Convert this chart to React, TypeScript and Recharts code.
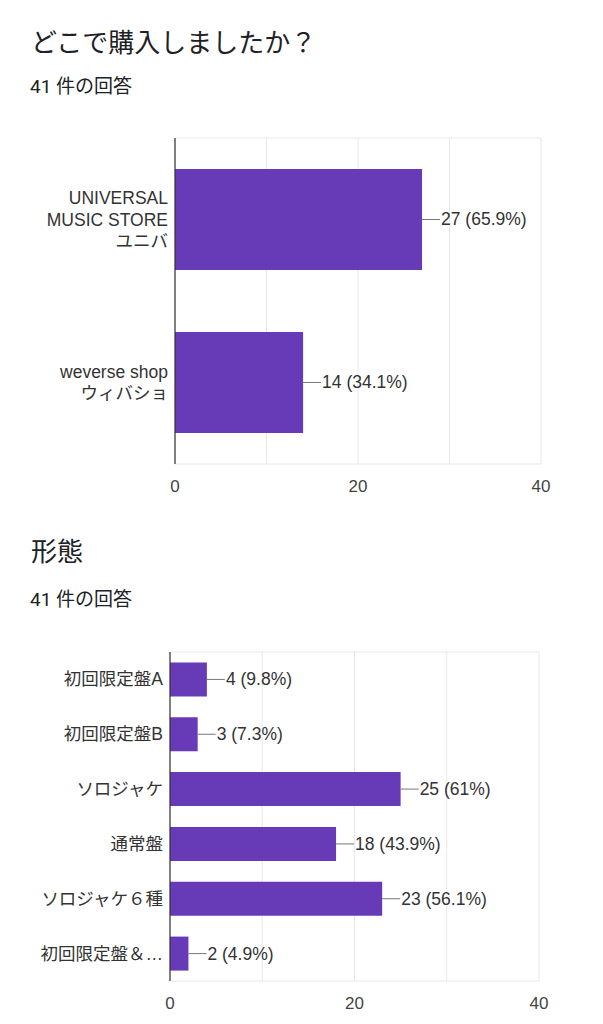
import React from 'react';
import { BarChart, Bar, XAxis, YAxis, CartesianGrid, LabelList } from 'recharts';

const TOTAL_LABEL = '41 件の回答';

const q1Title = 'どこで購入しましたか？';
const q1Categories = ['UNIVERSAL\nMUSIC STORE\nユニバ', 'weverse shop\nウィバショ'];
const q1Values = [27, 14];
const q1Percents = ['65.9%', '34.1%'];

const q2Title = '形態';
const q2Categories = ['初回限定盤A', '初回限定盤B', 'ソロジャケ', '通常盤', 'ソロジャケ６種', '初回限定盤＆…'];
const q2Values = [4, 3, 25, 18, 23, 2];
const q2Percents = ['9.8%', '7.3%', '61%', '43.9%', '56.1%', '4.9%'];

const xTicks = [0, 20, 40];
const gridValues = [0, 10, 20, 30, 40];
const xDomain = [0, 40];

const CHART_FONT = '"Liberation Sans", Arial, "Noto Sans CJK JP", sans-serif';
const TITLE_FONT = 'Roboto, "Noto Sans CJK JP", sans-serif';
const BAR_COLOR = '#673ab7';
const LABEL_SIZE = 17.5;

const buildRows = (cats: string[], vals: number[], pcts: string[]) =>
  cats.map((name, i) => ({ name, value: vals[i], label: `${vals[i]} (${pcts[i]})` }));

const CatTick = (props: any) => {
  const { x, y, payload } = props;
  const lines = String(payload.value).split('\n');
  const lh = 21.5;
  const start = -((lines.length - 1) * lh) / 2;
  return (
    <text x={x} y={y} textAnchor="end" fill="#333" fontSize={LABEL_SIZE} fontFamily={CHART_FONT}>
      {lines.map((l, i) => (
        <tspan key={i} x={x + 1} y={y + start + i * lh + 6}>
          {l}
        </tspan>
      ))}
    </text>
  );
};

const makeValueLabel = (rows: { label: string }[]) => (props: any) => {
  const { x, y, width, height, index } = props;
  const ex = Number(x) + Number(width);
  const cy = Number(y) + Number(height) / 2;
  return (
    <g>
      <line x1={ex} y1={cy} x2={ex + 18} y2={cy} stroke="#777" strokeWidth={1} />
      <text x={ex + 19} y={cy + 6} fill="#333" fontSize={LABEL_SIZE} fontFamily={CHART_FONT}>
        {rows[index].label}
      </text>
    </g>
  );
};

const gridX = (p: any) => {
  const { xAxis, offset } = p;
  if (xAxis && typeof xAxis.scale === 'function') {
    return gridValues.map((v) => xAxis.scale(v));
  }
  return gridValues.map((v) => offset.left + ((v - xDomain[0]) / (xDomain[1] - xDomain[0])) * offset.width);
};
const gridY = (p: any) => {
  const { offset } = p;
  return [offset.top, offset.top + offset.height];
};

type ChartProps = {
  rows: { name: string; value: number; label: string }[];
  height: number;
  top: number;
  marginTop: number;
  yWidth: number;
  right: number;
};

const HBar = ({ rows, height, top, marginTop, yWidth, right }: ChartProps) => (
  <div style={{ position: 'absolute', left: 0, top, width: 603, height }}>
    <BarChart
      width={603}
      height={height}
      data={rows}
      layout="vertical"
      margin={{ top: marginTop, right, bottom: 0, left: 0 }}
      barCategoryGap="19%"
    >
      <CartesianGrid
        stroke="#e8e8e8"
        verticalCoordinatesGenerator={gridX}
        horizontalCoordinatesGenerator={gridY}
      />
      <XAxis
        type="number"
        domain={xDomain}
        ticks={xTicks}
        axisLine={false}
        tickLine={false}
        tickMargin={10}
        height={40}
        tick={{ fill: '#444', fontSize: 17, fontFamily: CHART_FONT }}
      />
      <YAxis
        type="category"
        dataKey="name"
        width={yWidth}
        axisLine={{ stroke: '#333', strokeWidth: 1.2 }}
        tickLine={false}
        tick={<CatTick />}
        interval={0}
      />
      <Bar dataKey="value" fill={BAR_COLOR} isAnimationActive={false}>
        <LabelList dataKey="label" content={makeValueLabel(rows)} />
      </Bar>
    </BarChart>
  </div>
);

const titleStyle: React.CSSProperties = {
  position: 'absolute',
  left: 31,
  fontFamily: TITLE_FONT,
  fontSize: 26,
  lineHeight: '32px',
  color: '#202124',
  whiteSpace: 'nowrap',
};
const subStyle: React.CSSProperties = {
  position: 'absolute',
  left: 30,
  fontFamily: TITLE_FONT,
  fontSize: 19,
  lineHeight: '24px',
  color: '#202124',
  whiteSpace: 'nowrap',
};

export default function App() {
  const rows1 = buildRows(q1Categories, q1Values, q1Percents);
  const rows2 = buildRows(q2Categories, q2Values, q2Percents);
  return (
    <div
      style={{
        position: 'absolute',
        left: 0,
        top: 0,
        width: 603,
        height: 1024,
        background: '#fff',
        overflow: 'hidden',
      }}
    >
      <div style={{ ...titleStyle, top: 27 }}>{q1Title}</div>
      <div style={{ ...subStyle, top: 75 }}>{TOTAL_LABEL}</div>
      <HBar rows={rows1} top={100} height={404} marginTop={38} yWidth={175} right={62} />
      <div style={{ ...titleStyle, top: 536 }}>{q2Title}</div>
      <div style={{ ...subStyle, top: 588 }}>{TOTAL_LABEL}</div>
      <HBar rows={rows2} top={600} height={421} marginTop={52} yWidth={170} right={64} />
    </div>
  );
}
